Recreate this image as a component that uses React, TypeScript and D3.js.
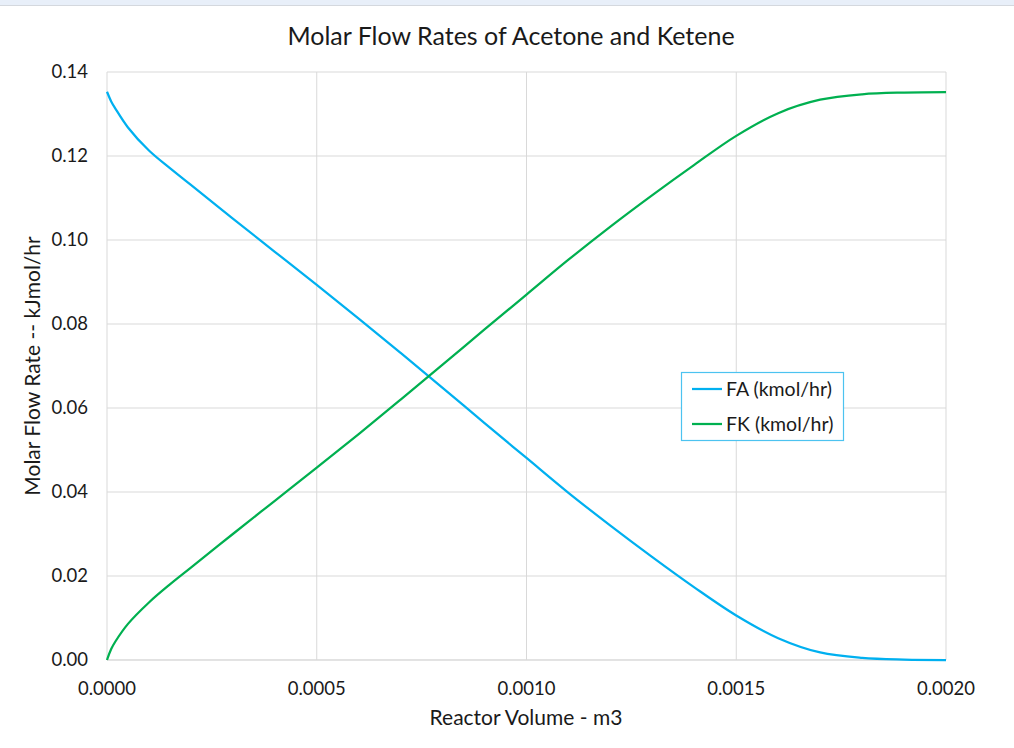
import React from "react";
import * as d3 from "d3";

const volume = [0, 0.00001, 0.00002, 0.00005, 0.0001, 0.00015, 0.0002, 0.0003, 0.0004, 0.0005, 0.0006, 0.0007, 0.0008, 0.0009, 0.001, 0.0011, 0.0012, 0.0013, 0.0014, 0.0015, 0.0016, 0.0017, 0.0018, 0.0019, 0.002];
const FA = [0.1353, 0.1330, 0.1313, 0.1268, 0.1213, 0.1171, 0.1131, 0.1051, 0.0972, 0.0893, 0.0813, 0.0731, 0.0648, 0.0564, 0.0481, 0.0398, 0.0320, 0.0245, 0.0173, 0.0106, 0.0052, 0.0018, 0.0005, 0.0001, 0.0];
const FK = [0.0, 0.0026, 0.0044, 0.0086, 0.0137, 0.0180, 0.0220, 0.0300, 0.0379, 0.0458, 0.0538, 0.0620, 0.0703, 0.0787, 0.0870, 0.0953, 0.1032, 0.1107, 0.1179, 0.1248, 0.1302, 0.1334, 0.1347, 0.1351, 0.1352];
const xTicks = [0, 0.0005, 0.001, 0.0015, 0.002];
const yTicks = [0, 0.02, 0.04, 0.06, 0.08, 0.1, 0.12, 0.14];
const seriesNames = ["FA (kmol/hr)", "FK (kmol/hr)"];
const seriesColors = ["#00b0f0", "#00b050"];

export default function App() {
  const W = 1014, H = 748;
  const left = 107, right = 946, top = 72, bottom = 660;
  const x = d3.scaleLinear().domain([0, 0.002]).range([left, right]);
  const y = d3.scaleLinear().domain([0, 0.14]).range([bottom, top]);
  const line = d3.line<number>().x((_, i) => x(volume[i])).y((d) => y(d)).curve(d3.curveCatmullRom.alpha(0.5));
  const font = "Lato, 'Open Sans', sans-serif";
  const series = [FA, FK];
  return (
    <svg width={W} height={H} style={{ position: "absolute", left: 0, top: 0, background: "#fff" }} fontFamily={font}>
      <rect x={0} y={0} width={W} height={5} fill="#e8eff9" />
      <line x1={0} x2={W} y1={5.5} y2={5.5} stroke="#d4d8de" />
      {yTicks.map((t) => (
        <line key={"gy" + t} x1={left} x2={right} y1={y(t)} y2={y(t)} stroke="#d9d9d9" strokeWidth={1} />
      ))}
      {xTicks.map((t) => (
        <line key={"gx" + t} x1={x(t)} x2={x(t)} y1={top} y2={bottom} stroke="#d9d9d9" strokeWidth={1} />
      ))}
      <line x1={left} x2={right} y1={bottom} y2={bottom} stroke="#d9d9d9" />
      {yTicks.map((t) => (
        <text key={"ty" + t} x={88} y={y(t)} dy="0.35em" textAnchor="end" fontSize={18.5} fill="#1a1a1a">
          {d3.format(".2f")(t)}
        </text>
      ))}
      {xTicks.map((t) => (
        <text key={"tx" + t} x={x(t)} y={689} dy="0.35em" textAnchor="middle" fontSize={18.5} fill="#1a1a1a">
          {d3.format(".4f")(t)}
        </text>
      ))}
      {series.map((s, i) => (
        <path key={"s" + i} d={line(s) || ""} fill="none" stroke={seriesColors[i]} strokeWidth={2.25} />
      ))}
      <text x={511} y={36} dy="0.35em" textAnchor="middle" fontSize={25} fill="#1a1a1a">
        Molar Flow Rates of Acetone and Ketene
      </text>
      <text x={526} y={718} dy="0.35em" textAnchor="middle" fontSize={21} fill="#1a1a1a">
        Reactor Volume - m3
      </text>
      <text transform={`translate(33,${(top + bottom) / 2}) rotate(-90)`} dy="0.35em" textAnchor="middle" fontSize={21} fill="#1a1a1a">
        Molar Flow Rate -- kJmol/hr
      </text>
      <rect x={681.5} y={372.5} width={162} height={68} fill="#fff" stroke="#4cc3f0" strokeWidth={1.2} />
      {seriesNames.map((n, i) => (
        <g key={"l" + i}>
          <line x1={692} x2={722} y1={389 + i * 35} y2={389 + i * 35} stroke={seriesColors[i]} strokeWidth={2.25} />
          <text x={726} y={389 + i * 35} dy="0.35em" fontSize={19.5} fill="#1a1a1a">
            {n}
          </text>
        </g>
      ))}
    </svg>
  );
}
